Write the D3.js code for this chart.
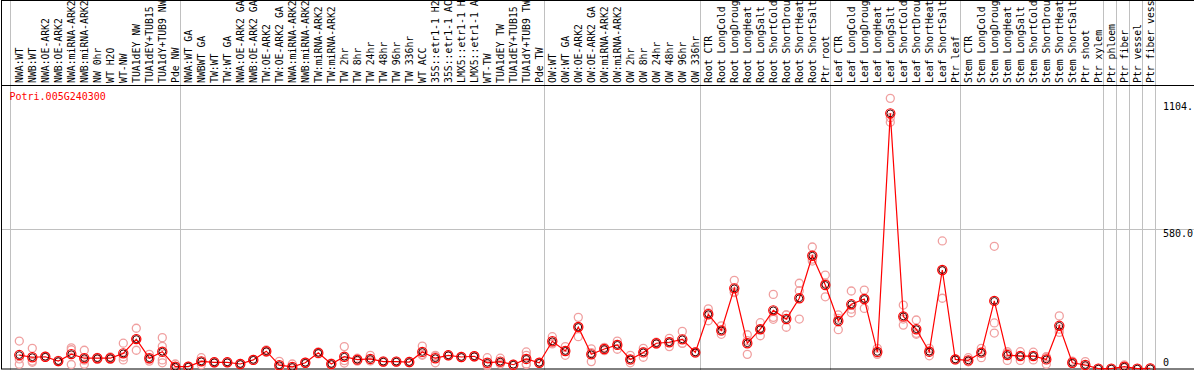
<!DOCTYPE html>
<html>
<head>
<meta charset="utf-8">
<script src="https://d3js.org/d3.v7.min.js"></script>
<style>
body { margin: 0; background: #fff; }
text { font-family: "DejaVu Sans Mono", monospace; font-size: 10px; }
</style>
</head>
<body>
<svg id="myPlot" width="1194" height="370"></svg>
<script>
// gene shown in the plot
const gene = "Potri.005G240300";

// sample names, one per column
const labels = [
  "NWA:WT", "NWB:WT", "NWA:OE-ARK2", "NWB:OE-ARK2", "NWA:miRNA-ARK2", "NWB:miRNA-ARK2",
  "NW 0hr", "WT H2O", "WT-NW", "TUA1dEY NW", "TUA1dEY+TUB15 NW", "TUA1dY+TUB9 NW", "Pde NW",
  "NWA:WT GA", "NWBWT GA", "TW:WT", "TW:WT GA", "NWA:OE-ARK2 GA", "NWB:OE-ARK2 GA",
  "TW:OE-ARK2", "TW:OE-ARK2 GA", "NWA:miRNA-ARK2 GA", "NWB:miRNA-ARK2 GA", "TW:miRNA-ARK2",
  "TW:miRNA-ARK2", "TW 2hr", "TW 8hr", "TW 24hr", "TW 48hr", "TW 96hr", "TW 336hr", "WT ACC",
  "35S::etr1-1 H2O", "35S::etr1-1 ACC", "LMX5::etr1-1 H2O", "LMX5::etr1-1 ACC", "WT-TW",
  "TUA1dEY TW", "TUA1dEY+TUB15 TW", "TUA1dY+TUB9 TW", "Pde TW",
  "OW:WT", "OW:WT GA", "OW:OE-ARK2", "OW:OE-ARK2 GA", "OW:miRNA-ARK2", "OW:miRNA-ARK2",
  "OW 2hr", "OW 8hr", "OW 24hr", "OW 48hr", "OW 96hr", "OW 336hr",
  "Root CTR", "Root LongCold", "Root LongDrought", "Root LongHeat", "Root LongSalt",
  "Root ShortCold", "Root ShortDrought", "Root ShortHeat", "Root ShortSalt", "Ptr root",
  "Leaf CTR", "Leaf LongCold", "Leaf LongDrought", "Leaf LongHeat", "Leaf LongSalt",
  "Leaf ShortCold", "Leaf ShortDrought", "Leaf ShortHeat", "Leaf ShortSalt", "Ptr leaf",
  "Stem CTR", "Stem LongCold", "Stem LongDrought", "Stem LongHeat", "Stem LongSalt",
  "Stem ShortCold", "Stem ShortDrought", "Stem ShortHeat", "Stem ShortSalt", "Ptr shoot",
  "Ptr xylem", "Ptr phloem", "Ptr fiber", "Ptr vessel", "Ptr fiber vessel"
];

// last column of each experiment block (a grey rule follows it)
const groupEnds = [12, 40, 52, 62, 72, 83, 84, 85, 86, 87];

// mean expression per column
const means = [
  56, 47, 49, 31, 60, 43, 43, 43, 63, 122, 43, 70,
  8, 8, 30, 26, 26, 19, 36, 72, 14, 7, 24, 65,
  19, 49, 37, 40, 29, 29, 27, 69, 43, 55, 48, 51,
  24, 29, 16, 40, 24, 113, 73, 172, 59, 81, 98, 38,
  67, 105, 109, 121, 67, 225, 158, 332, 105, 163, 241, 205,
  291, 467, 346, 197, 266, 288, 69, 1056, 216, 163, 70, 408,
  38, 34, 66, 280, 56, 52, 52, 38, 177, 24, 15, 0,
  0, 8, 0, 1
];

// replicate values per column
const reps = [
  [114, 40, 18], [84, 26, 31], [51, 47, 49], [34, 28, 31], [86, 78, 17], [76, 18, 35],
  [46, 38, 45], [48, 38, 43], [105, 36, 48], [167, 76, 123], [59, 31, 39], [128, 92, 36, 24],
  [19, 3, 2], [10, 6, 8], [45, 16, 29], [29, 23, 26], [28, 24, 26], [21, 17, 19],
  [38, 34, 36], [77, 67, 72], [30, 6, 6], [19, 1, 1], [27, 21, 24], [69, 61, 65],
  [23, 15, 19], [91, 33, 23], [43, 31, 37], [55, 33, 32], [32, 26, 29], [31, 27, 29],
  [30, 24, 27], [93, 55, 59], [55, 24, 50], [57, 53, 55], [50, 46, 48], [54, 48, 51],
  [45, 11, 16], [43, 19, 25], [18, 14, 16], [69, 55, 19, 17], [26, 22, 24], [132, 102, 105],
  [91, 55, 73], [212, 132, 172], [82, 29, 66], [88, 74, 81], [114, 80, 100], [55, 24, 35],
  [84, 47, 70], [109, 101, 105], [125, 91, 111], [154, 105, 104], [70, 64, 67], [247, 198, 230],
  [177, 142, 155], [365, 314, 317], [140, 59, 116], [190, 136, 163], [307, 212, 204], [222, 171, 222],
  [353, 322, 205], [503, 445, 453], [387, 297, 354], [222, 161, 208], [321, 231, 246], [325, 249, 290],
  [84, 59, 64], [1118, 1038, 1019], [263, 180, 205], [201, 142, 146], [84, 53, 73], [528, 291, 405],
  [40, 36, 38], [45, 29, 28], [84, 45, 69], [506, 189, 147], [70, 34, 64], [70, 34, 52],
  [68, 36, 52], [49, 18, 47], [218, 150, 163], [31, 20, 21], [29, 8, 8], [1, 0, 0],
  [0, 0, 0], [15, 5, 4], [0, 0, 0], [2, 0, 1]
];

// y axis
const yTop = 1159.2;
const yTicks = [1104, 579.6, 0];
const yTickLabels = ["1104.", "580.0", "0"];
const gridTicks = [579.6];

const W = 1194, H = 370;
const labelBottom = 85;
const maxChars = 14; // labels are cut to fit the header

const svg = d3.select("#myPlot");

svg.append("rect")
  .attr("width", W).attr("height", H)
  .attr("fill", "#fff");

// Scales
const x = d3.scaleLinear()
  .domain([0, labels.length - 1])
  .range([19.3, 19.3 + 13 * (labels.length - 1)]);

const y = d3.scaleLinear()
  .domain([0, yTop])
  .range([368.6, 88.4]);

// grey rules between experiment blocks
const seps = [x(0) - 9].concat(groupEnds.map(i => x(i) + 5));
svg.append("g")
  .selectAll("line")
  .data(seps).enter()
  .append("line")
  .attr("x1", d => Math.round(d) + 0.5)
  .attr("x2", d => Math.round(d) + 0.5)
  .attr("y1", 0)
  .attr("y2", H)
  .attr("stroke", "#c0c0c0")
  .attr("stroke-width", 1);

// grid line
svg.append("g")
  .selectAll("line")
  .data(gridTicks).enter()
  .append("line")
  .attr("x1", 1)
  .attr("x2", W)
  .attr("y1", d => Math.round(y(d)) + 0.5)
  .attr("y2", d => Math.round(y(d)) + 0.5)
  .attr("stroke", "#c0c0c0")
  .attr("stroke-width", 1);

// frame
svg.append("rect")
  .attr("x", 1.5).attr("y", 0.5)
  .attr("width", W + 10).attr("height", 368.5)
  .attr("fill", "none")
  .attr("stroke", "#000");

svg.append("line")
  .attr("x1", 1).attr("x2", W)
  .attr("y1", labelBottom + 0.5).attr("y2", labelBottom + 0.5)
  .attr("stroke", "#000");

// column labels, rotated
svg.append("g")
  .selectAll("text")
  .data(labels).enter()
  .append("text")
  .attr("transform", (d, i) => "translate(" + (x(i) + 4) + "," + (labelBottom - 2) + ") rotate(-90)")
  .attr("fill", "#000")
  .style("font-size", "9.8px")
  .text(d => d.slice(0, maxChars));

// gene name
svg.append("text")
  .attr("x", 9.5)
  .attr("y", 100)
  .attr("fill", "#ff0000")
  .text(gene);

// y tick labels
svg.append("g")
  .selectAll("text")
  .data(yTicks).enter()
  .append("text")
  .attr("x", 1163)
  .attr("y", d => Math.min(y(d) + 8, 366))
  .attr("fill", "#000")
  .text((d, i) => yTickLabels[i]);

// plot area
const plot = svg.append("g");

// replicates
const repPts = [];
reps.forEach((r, i) => r.forEach(v => repPts.push([i, v])));

plot.append("g")
  .selectAll("circle")
  .data(repPts).enter()
  .append("circle")
  .attr("cx", d => x(d[0]))
  .attr("cy", d => y(d[1]))
  .attr("r", 4)
  .attr("fill", "none")
  .attr("stroke", "#f0a0a0")
  .attr("stroke-width", 1.3);

// mean line
const line = d3.line()
  .x((d, i) => x(i))
  .y(d => y(d));

plot.append("path")
  .datum(means)
  .attr("d", line)
  .attr("fill", "none")
  .attr("stroke", "#ff0000")
  .attr("stroke-width", 1.2);

// mean markers
const m = plot.append("g")
  .selectAll("g")
  .data(means).enter()
  .append("g")
  .attr("transform", (d, i) => "translate(" + x(i) + "," + y(d) + ")");

m.append("circle")
  .attr("r", 4.6)
  .attr("fill", "none")
  .attr("stroke", "#ff0000")
  .attr("stroke-width", 1.2);

m.append("circle")
  .attr("r", 3.4)
  .attr("fill", "none")
  .attr("stroke", "#400000")
  .attr("stroke-width", 1);
</script>
</body>
</html>
